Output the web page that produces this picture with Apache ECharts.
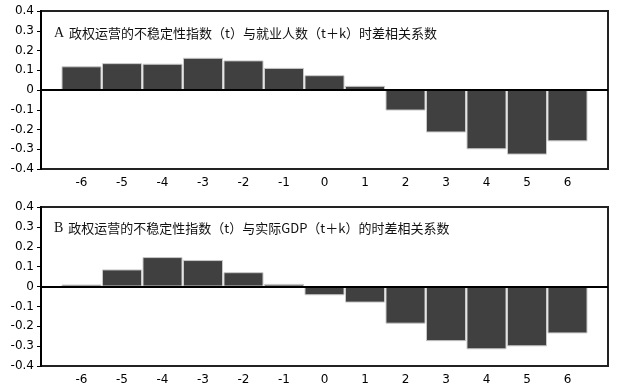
<!DOCTYPE html>
<html><head><meta charset="utf-8">
<script src="https://cdn.jsdelivr.net/npm/echarts@6/dist/echarts.min.js"></script>
<style>html,body{margin:0;padding:0;background:#fff}#c{width:617px;height:390px}</style>
</head><body><div id="c"></div>
<script>
const lags = [-6,-5,-4,-3,-2,-1,0,1,2,3,4,5,6];
const employmentCorr = [0.120,0.136,0.133,0.163,0.150,0.112,0.075,0.021,-0.104,-0.215,-0.300,-0.327,-0.260];
const gdpCorr = [0.010,0.086,0.148,0.133,0.072,0.013,-0.044,-0.081,-0.187,-0.275,-0.316,-0.301,-0.236];
const yTicks = [-0.4,-0.3,-0.2,-0.1,0,0.1,0.2,0.3,0.4];
const titleA = '政权运营的不稳定性指数（t）与就业人数（t＋k）时差相关系数';
const titleB = '政权运营的不稳定性指数（t）与实际GDP（t＋k）的时差相关系数';

const chart = echarts.init(document.getElementById('c'), null, {renderer:'canvas'});
const grids = [{left:41,right:9,top:11,height:158},{left:41,right:9,top:207,height:159}];
function xAx(i){return {gridIndex:i,type:'value',min:-7,max:7,interval:1,
  axisLine:{show:false},axisTick:{show:false},splitLine:{show:false},
  axisLabel:{margin:8,color:'#000',fontFamily:'DejaVu Sans',fontSize:12,
    formatter:v=>(v<=-7||v>=7)?'':String(v)}};}
function yAx(i){return {gridIndex:i,type:'value',min:yTicks[0],max:yTicks[yTicks.length-1],interval:0.1,
  axisLine:{show:true,onZero:false,lineStyle:{color:'#000',width:2}},
  axisTick:{show:true,inside:false,length:4,lineStyle:{color:'#000',width:1}},
  splitLine:{show:false},
  axisLabel:{margin:7,color:'#000',fontFamily:'DejaVu Sans',fontSize:12,
    formatter:v=>{const r=Math.round(v*10)/10;return r===0?'0':r.toFixed(1);}}};}
function ser(i,vals){return {type:'bar',xAxisIndex:i,yAxisIndex:i,barWidth:40,
  data:lags.map((k,j)=>[k,vals[j]]),
  itemStyle:{color:'#404040',borderColor:'#c8c8c8',borderWidth:1},
  markLine:{silent:true,symbol:'none',label:{show:false},
    lineStyle:{color:'#000',width:2,type:'solid'},data:[{yAxis:0}]},
  animation:false};}
function ttl(letter,txt,top){return {left:49,top:top,
  text:'{a|'+letter+'} {b|'+txt+'}',
  textStyle:{fontWeight:'normal',rich:{a:{fontFamily:'Liberation Serif',fontSize:14,fontWeight:'normal',color:'#111'},
    b:{fontFamily:'Noto Sans CJK SC',fontSize:13,fontWeight:'normal',color:'#111'}}}};}
chart.setOption({
  animation:false,
  title:[ttl('A',titleA,19),ttl('B',titleB,214)],
  grid:grids.map(g=>Object.assign({show:true,borderColor:'#222',borderWidth:2,backgroundColor:'transparent'},g)),
  xAxis:[xAx(0),xAx(1)],
  yAxis:[yAx(0),yAx(1)],
  series:[ser(0,employmentCorr),ser(1,gdpCorr)]
});
</script></body></html>
